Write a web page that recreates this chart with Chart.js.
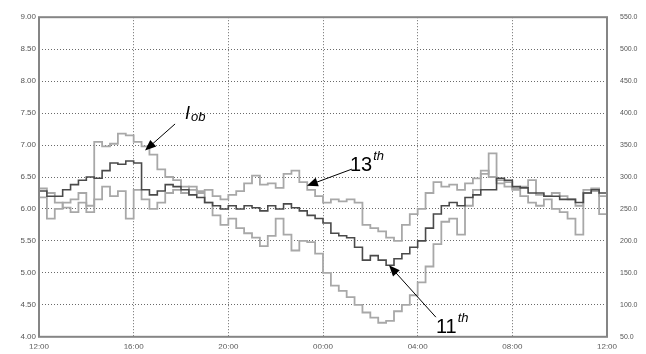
<!DOCTYPE html>
<html><head><meta charset="utf-8">
<script src="https://cdn.jsdelivr.net/npm/chart.js@4/dist/chart.umd.min.js"></script>
<style>html,body{margin:0;padding:0;background:#fff;}#wrap{width:646px;height:354px;}</style>
</head><body><div id="wrap"><canvas id="c" width="646" height="354"></canvas></div>
<script>
// x axis: hours elapsed since 12:00, tick every 4 h
const xTickLabels = ['12:00','16:00','20:00','00:00','04:00','08:00','12:00'];
const sampleHours = 1/3; // one reading every 20 minutes

// 11th harmonic (dark line), left axis
const h11 = [6.28,6.20,6.20,6.30,6.38,6.45,6.50,6.48,6.60,6.72,6.70,6.75,6.72,
  6.30,6.22,6.28,6.38,6.35,6.30,6.22,6.18,6.10,6.05,6.00,6.05,6.00,6.05,6.02,5.97,6.05,6.00,6.08,6.02,5.97,5.90,5.85,
  5.78,5.62,5.58,5.55,5.40,5.20,5.27,5.20,5.12,5.22,5.30,5.40,5.50,5.70,5.92,6.05,6.10,6.05,6.18,6.22,6.30,6.30,6.48,6.45,
  6.35,6.33,6.25,6.25,6.20,6.20,6.15,6.15,6.10,6.25,6.30,6.25,6.20];

// I_ob (light line)
const iob = [6.18,5.85,6.00,6.10,6.15,6.25,6.05,7.05,6.98,7.02,7.18,7.15,7.05,
  6.98,6.85,6.62,6.50,6.45,6.35,6.30,6.25,6.10,5.90,5.75,5.85,5.70,5.62,5.55,5.42,5.58,5.85,5.60,5.35,5.50,5.48,5.30,
  5.00,4.80,4.72,4.62,4.50,4.38,4.30,4.22,4.25,4.40,4.50,4.65,4.85,5.10,5.45,5.80,5.85,5.60,6.05,6.30,6.55,6.87,6.45,6.42,
  6.30,6.20,6.10,6.05,6.15,6.00,5.95,5.85,5.60,6.25,6.32,5.92,5.92];

// 13th harmonic (light line), left axis
const h13 = [6.32,6.25,6.10,6.02,5.95,6.10,5.95,6.15,6.35,6.20,6.28,5.85,6.30,
  6.15,6.00,6.10,6.25,6.30,6.25,6.35,6.28,6.30,6.20,6.15,6.22,6.28,6.40,6.52,6.38,6.40,6.33,6.55,6.60,6.42,6.30,6.20,
  6.10,6.15,6.12,6.15,6.10,5.75,5.70,5.65,5.55,5.50,5.75,5.92,6.00,6.25,6.42,6.35,6.38,6.30,6.40,6.48,6.60,6.50,6.40,6.35,
  6.32,6.35,6.45,6.22,6.20,6.25,6.20,6.15,6.05,6.30,6.28,6.20,6.20];

// callouts: [hours, left-axis value]
const annotations = [
  {main:'I', sub:'ob', sup:'', italic:true, size:18, textAt:[6.17,7.405], tail:[5.75,7.33], tip:[4.48,6.914]},
  {main:'13', sub:'', sup:'th', italic:false, size:20, textAt:[13.14,6.592], tail:[13.22,6.623], tip:[11.32,6.362]},
  {main:'11', sub:'', sup:'th', italic:false, size:20, textAt:[16.77,4.061], tail:[16.77,4.307], tip:[14.79,5.12]}
];

function toPoints(arr){ return arr.map((v,i)=>({x:i*sampleHours, y:v})); }

const FONT = '"Liberation Sans", Arial, sans-serif';

const calloutPlugin = {
  id:'callouts',
  afterDatasetsDraw(chart){
    const ctx = chart.ctx, xs = chart.scales.x, ys = chart.scales.y;
    ctx.save();
    annotations.forEach(a=>{
      const tx = xs.getPixelForValue(a.tail[0]), ty = ys.getPixelForValue(a.tail[1]);
      const px = xs.getPixelForValue(a.tip[0]), py = ys.getPixelForValue(a.tip[1]);
      const ang = Math.atan2(py-ty, px-tx);
      const L = 11, W = 4.5;
      ctx.strokeStyle = '#000'; ctx.fillStyle = '#000'; ctx.lineWidth = 1;
      ctx.beginPath();
      ctx.moveTo(tx,ty);
      ctx.lineTo(px - Math.cos(ang)*L*0.8, py - Math.sin(ang)*L*0.8);
      ctx.stroke();
      ctx.beginPath();
      ctx.moveTo(px,py);
      ctx.lineTo(px - Math.cos(ang)*L + Math.sin(ang)*W, py - Math.sin(ang)*L - Math.cos(ang)*W);
      ctx.lineTo(px - Math.cos(ang)*L - Math.sin(ang)*W, py - Math.sin(ang)*L + Math.cos(ang)*W);
      ctx.closePath(); ctx.fill();
      const x = xs.getPixelForValue(a.textAt[0]), y = ys.getPixelForValue(a.textAt[1]);
      ctx.textBaseline = 'alphabetic'; ctx.textAlign = 'left';
      ctx.font = (a.italic?'italic ':'') + a.size + 'px ' + FONT;
      ctx.fillText(a.main, x, y);
      const w = ctx.measureText(a.main).width;
      ctx.font = 'italic 13px ' + FONT;
      if (a.sub) ctx.fillText(a.sub, x + w + 1, y + 2);
      if (a.sup) ctx.fillText(a.sup, x + w + 1, y - 11);
    });
    ctx.restore();
  }
};

const framePlugin = {
  id:'frame',
  afterDraw(chart){
    const {left,top,right,bottom} = chart.chartArea, ctx = chart.ctx;
    ctx.save();
    ctx.strokeStyle = '#858585'; ctx.lineWidth = 2;
    ctx.strokeRect(left, top, right-left, bottom-top);
    ctx.restore();
  }
};

const lineBase = {stepped:true, pointRadius:0, tension:0, fill:false, yAxisID:'y'};

new Chart(document.getElementById('c'), {
  type:'line',
  data:{datasets:[
    Object.assign({label:'11th', data:toPoints(h11), borderColor:'#4a4a4a', borderWidth:1.6}, lineBase),
    Object.assign({label:'13th', data:toPoints(h13), borderColor:'#a8a8a8', borderWidth:1.8}, lineBase),
    Object.assign({label:'Iob', data:toPoints(iob), borderColor:'#a8a8a8', borderWidth:1.8}, lineBase)
  ]},
  options:{
    responsive:false, animation:false, devicePixelRatio:1,
    layout:{padding:{top:16, left:0, right:0, bottom:0}},
    plugins:{legend:{display:false}, tooltip:{enabled:false}},
    scales:{
      x:{type:'linear', min:0, max:24,
        ticks:{stepSize:4, padding:5, maxRotation:0, autoSkip:false, color:'#555', font:{family:FONT, size:8},
          callback:(v)=>xTickLabels[Math.round(v/4)]},
        grid:{color:'#6a6a6a', lineWidth:1, drawTicks:false},
        border:{display:false, dash:[1,2]},
        afterFit:(s)=>{s.height=12;}
      },
      y:{position:'left', min:4, max:9,
        ticks:{stepSize:0.5, padding:3, color:'#555', font:{family:FONT, size:8}, callback:(v)=>v.toFixed(2)},
        grid:{color:'#6a6a6a', lineWidth:1, drawTicks:false},
        border:{display:false, dash:[1,2]},
        afterFit:(s)=>{s.width=39;}
      },
      y2:{position:'right', min:50, max:550,
        ticks:{stepSize:50, padding:13, color:'#555', font:{family:FONT, size:7}, callback:(v)=>v.toFixed(1)},
        grid:{display:false, drawTicks:false},
        border:{display:false},
        afterFit:(s)=>{s.width=39;}
      }
    }
  },
  plugins:[calloutPlugin, framePlugin]
});
</script>
</body></html>
